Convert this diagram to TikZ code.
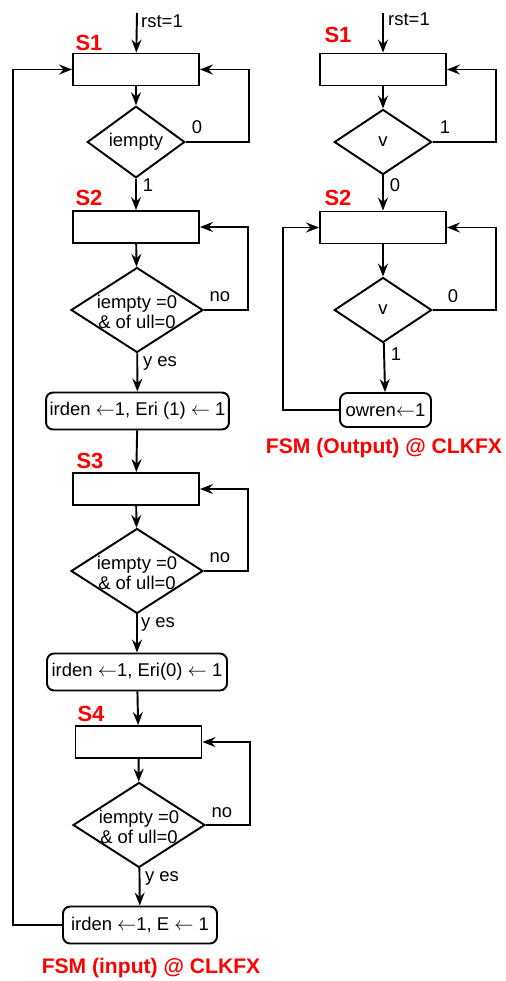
\documentclass[tikz,border=0pt]{standalone}
\usepackage{fontspec}
\setmainfont{Liberation Sans}
\usetikzlibrary{arrows.meta,shapes.geometric}
\definecolor{fsmred}{HTML}{FF0000}

\begin{document}
\begin{tikzpicture}[x=0.02cm,y=-0.02cm,line width=1.1pt,font=\fontsize{10.5}{12}\selectfont,
  state/.style={draw,minimum width=2.52cm,minimum height=0.64cm,inner sep=0pt},
  cond/.style={draw,diamond,inner sep=0pt,minimum width=1.95cm,minimum height=1.3cm},
  wide/.style={draw,diamond,inner sep=0pt,minimum width=2.64cm,minimum height=1.7cm,
    label={[align=center,font=\fontsize{10.5}{11.5}\selectfont,yshift=-1pt]center:iempty =0\\\& of ull=0}},
  act/.style={draw,rounded corners=4pt,minimum height=0.74cm,inner sep=2pt},
  title/.style={text=fsmred,font=\fontsize{12.5}{14}\bfseries\selectfont},
  arr/.style={-{Stealth[length=2.6mm,width=2mm,inset=0.9mm]}}]
\useasboundingbox (0,0) rectangle (506,981);
% input FSM
\coordinate (r1) at (137,13);
\node[state] (s1) at (136,69.5) {};
\node[title] (n1) at (89,43) {S1};
\node[cond] (c1) at (136,142) {iempty};
\node[state] (s2) at (136,227) {};
\node[title] (n2) at (89,198) {S2};
\node[wide] (c2) at (137,310) {};
\node[act,minimum width=3.58cm] (a1) at (137.5,411) {irden $\leftarrow$1, Eri (1) $\leftarrow$ 1};
\node[state] (s3) at (136,489) {};
\node[title] (n3) at (90,461) {S3};
\node[wide] (c3) at (137,571) {};
\node[act,minimum width=3.6cm] (a2) at (137,672) {irden $\leftarrow$1, Eri(0) $\leftarrow$ 1};
\node[state] (s4) at (138.5,742) {};
\node[title] (n4) at (91,714) {S4};
\node[wide] (c4) at (139,825) {};
\node[act,minimum width=3.08cm] (a3) at (140,925) {irden $\leftarrow$1, E $\leftarrow$ 1};
\node[title,font=\fontsize{12}{14}\bfseries\selectfont] (f1) at (151,968) {FSM (input) @ CLKFX};
\node (rl1) at (162,21) {rst=1};
\node (z1) at (197,127) {0};
\node (o1) at (148,185) {1};
\node (no2) at (220,297) {no};
\node (y2) at (160,363) {y es};
\node (no3) at (220,558) {no};
\node (y3) at (158,624) {y es};
\node (no4) at (222,813) {no};
\node (y4) at (162,878) {y es};
\foreach \a/\b in {r1/s1,s1/c1,c1/s2,s2/c2,c2/a1,a1/s3,s3/c3,c3/a2,a2/s4,s4/c4,c4/a3}{\draw[arr] (\a)--(\b);}
\draw[arr] (c1.east) -- ++(63,0) |- (s1.east);
\draw[arr] (c2.east) -- ++(44,0) |- (s2.east);
\draw[arr] (c3.east) -- ++(44,0) |- (s3.east);
\draw[arr] (c4.east) -- ++(44,0) |- (s4.east);
\draw[arr] (a3.west) -- ++(-49,0) |- (s1.west);
% output FSM
\coordinate (r2) at (383,13);
\node[state] (t1) at (383,69.5) {};
\node[title] (m1) at (338,35) {S1};
\node[cond] (d1) at (383,142) {v};
\node[state] (t2) at (383,227.5) {};
\node[title] (m2) at (338,198) {S2};
\node[cond] (d2) at (383,310) {v};
\node[act,minimum width=1.82cm,minimum height=0.68cm] (ow) at (385.5,410) {owren$\leftarrow$1};
\node[title,font=\fontsize{12}{14}\bfseries\selectfont] (f2) at (384,448) {FSM (Output) @ CLKFX};
\node (rl2) at (409,19) {rst=1};
\node (p1) at (445,127) {1};
\node (q1) at (395,185) {0};
\node (q2) at (453,296) {0};
\node (p2) at (396,354) {1};
\foreach \a/\b in {r2/t1,t1/d1,d1/t2,t2/d2,d2/ow}{\draw[arr] (\a)--(\b);}
\draw[arr] (d1.east) -- ++(63,0) |- (t1.east);
\draw[arr] (d2.east) -- ++(63,0) |- (t2.east);
\draw[arr] (ow.west) -- ++(-56,0) |- (t2.west);
\end{tikzpicture}
\end{document}
